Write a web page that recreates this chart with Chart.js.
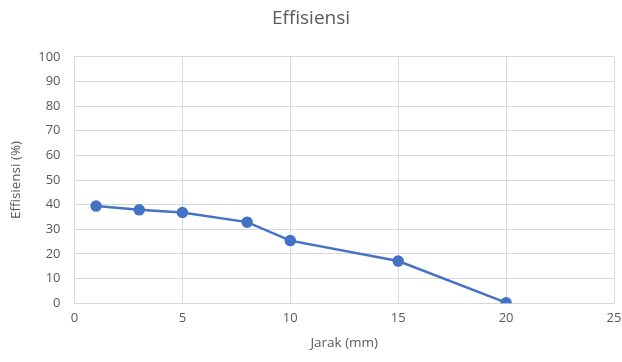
<!DOCTYPE html>
<html>
<head>
<meta charset="utf-8">
<script src="https://cdn.jsdelivr.net/npm/chart.js@4/dist/chart.umd.min.js"></script>
<style>
  html, body { margin: 0; padding: 0; background: #fff; }
  #wrap { width: 622px; height: 362px; }
</style>
</head>
<body>
<div id="wrap"><canvas id="chart" width="622" height="362"></canvas></div>
<script>
// Data
const jarak = [1, 3, 5, 8, 10, 15, 20];
const effisiensi = [39.4, 37.9, 36.8, 32.9, 25.4, 17.1, 0.2];
const xTicks = [0, 5, 10, 15, 20, 25];
const yTicks = [0, 10, 20, 30, 40, 50, 60, 70, 80, 90, 100];

const textColor = '#595959';
const gridColor = '#d9d9d9';
const lineColor = '#4472c4';
const fontFamily = "'Open Sans', 'Liberation Sans', sans-serif";

const points = jarak.map((x, i) => ({ x: x, y: effisiensi[i] }));

new Chart(document.getElementById('chart').getContext('2d'), {
    type: 'scatter',
    data: {
        datasets: [{
            label: 'Effisiensi',
            data: points,
            showLine: true,
            borderColor: lineColor,
            backgroundColor: lineColor,
            borderWidth: 2.5,
            pointRadius: 4.5,
            pointHoverRadius: 4.5
        }]
    },
    options: {
        responsive: false,
        animation: false,
        layout: { padding: { left: 8, right: 8, top: 0, bottom: 11 } },
        plugins: {
            legend: { display: false },
            tooltip: { enabled: false },
            title: {
                display: true,
                text: 'Effisiensi',
                color: textColor,
                font: { family: fontFamily, size: 19, weight: 'normal' },
                padding: { top: 7, bottom: 27 }
            }
        },
        scales: {
            x: {
                type: 'linear',
                min: 0,
                max: 25,
                afterBuildTicks: axis => { axis.ticks = xTicks.map(v => ({ value: v })); },
                // let the "25" label hang into the right margin like the original
                afterFit: axis => { axis.paddingRight = 0; },
                grid: { color: gridColor, drawTicks: false },
                border: { color: gridColor },
                ticks: { color: textColor, font: { family: fontFamily, size: 13 }, padding: 7 },
                title: {
                    display: true,
                    text: 'Jarak (mm)',
                    color: textColor,
                    font: { family: fontFamily, size: 13.5 },
                    padding: { top: 2, bottom: 0 }
                }
            },
            y: {
                min: 0,
                max: 100,
                afterBuildTicks: axis => { axis.ticks = yTicks.map(v => ({ value: v })); },
                grid: { color: gridColor, drawTicks: false },
                border: { color: gridColor },
                ticks: { color: textColor, font: { family: fontFamily, size: 13 }, padding: 14 },
                title: {
                    display: true,
                    text: 'Effisiensi (%)',
                    color: textColor,
                    font: { family: fontFamily, size: 13.5 },
                    padding: { top: 0, bottom: 0 }
                }
            }
        }
    }
});
</script>
</body>
</html>
